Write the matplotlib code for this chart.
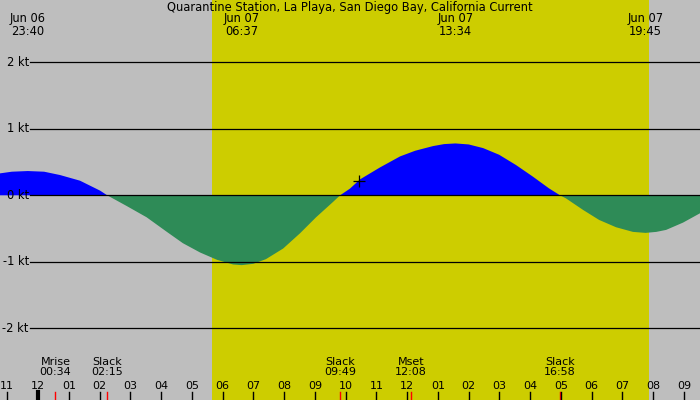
import numpy as np
import matplotlib.pyplot as plt

# hours from midnight Jun 07 and current speed (kt)
hours = [-1.235, -0.85, -0.333, 0.2, 0.715, 1.365, 2.02, 2.25, 2.88, 3.53, 4.19,
         4.71, 5.27, 5.82, 6.34, 6.62, 7.0, 7.41, 7.97, 8.52, 9.04, 9.59, 9.82,
         10.14, 10.47, 11.12, 11.77, 12.26, 12.84, 13.2, 13.57, 14.0, 14.47,
         14.99, 15.54, 16.09, 16.61, 16.97, 17.16, 17.72, 18.24, 18.79, 19.34,
         19.75, 20.1, 20.42, 20.97, 21.52]
speed = [0.33, 0.355, 0.365, 0.355, 0.305, 0.22, 0.07, 0.0, -0.16, -0.33, -0.55,
         -0.72, -0.86, -0.97, -1.04, -1.05, -1.03, -0.96, -0.80, -0.57, -0.33,
         -0.10, 0.0, 0.10, 0.24, 0.42, 0.585, 0.67, 0.74, 0.77, 0.78, 0.765,
         0.71, 0.61, 0.455, 0.28, 0.105, 0.0, -0.045, -0.22, -0.37, -0.48,
         -0.55, -0.565, -0.55, -0.52, -0.41, -0.27]

sunrise, sunset = 5.66, 19.86
kt_levels = [2, 1, 0, -1, -2]

# max/min current labels along the top
peak_hours = [-0.333, 6.617, 13.567, 19.75]
peak_labels = ["Jun 06\n23:40", "Jun 07\n06:37", "Jun 07\n13:34", "Jun 07\n19:45"]

# events along the bottom
event_hours = [0.567, 2.25, 9.817, 12.133, 16.967]
event_labels = ["Mrise\n00:34", "Slack\n02:15", "Slack\n09:49", "Mset\n12:08", "Slack\n16:58"]

hour_ticks = list(range(-1, 22))
hour_labels = ["11", "12", "01", "02", "03", "04", "05", "06", "07", "08", "09", "10",
               "11", "12", "01", "02", "03", "04", "05", "06", "07", "08", "09"]

now_hour, now_speed = 10.42, 0.22

gray = "#bebebe"
yellow = "#cdcd00"
fs = 8.3
fs_small = 8

fig = plt.figure(figsize=(7, 4), dpi=100, facecolor=gray)
ax = fig.add_axes([0, 0, 1, 1])
ax.set_facecolor(gray)
ax.set_xlim(-1.235, 21.52)
ax.set_ylim(-3.078, 2.937)
ax.axis("off")

ax.axvspan(sunrise, sunset, color=yellow, lw=0, zorder=0)

h = np.array(hours)
s = np.array(speed)
ax.fill_between(h, 0, s, where=s >= 0, interpolate=True, color="#0000ff", lw=0, zorder=1)
ax.fill_between(h, 0, s, where=s <= 0, interpolate=True, color="#2e8b57", lw=0, zorder=1)

for lv in kt_levels:
    ax.axhline(lv, xmin=30 / 700, xmax=1, color="black", lw=0.9, zorder=2)
    ax.text(-0.3, lv, f"{lv} kt", ha="right", va="center", fontsize=fs, zorder=3)

ax.plot([now_hour], [now_speed], marker="+", color="black", ms=8, mew=0.9, zorder=3)

ax.text(0.5, 1 - 8 / 400, "Quarantine Station, La Playa, San Diego Bay, California Current",
        transform=ax.transAxes, ha="center", va="center", fontsize=fs)

tr = ax.get_xaxis_transform()
for ph, pl in zip(peak_hours, peak_labels):
    ax.text(ph, 1 - 25 / 400, pl, transform=tr, ha="center", va="center",
            fontsize=fs, linespacing=0.95)

for eh, el in zip(event_hours, event_labels):
    ax.text(eh, 1 - 367 / 400, el, transform=tr, ha="center", va="center",
            fontsize=fs_small, linespacing=0.9)
    ax.plot([eh, eh], [0, 8 / 400], transform=tr, color="red", lw=1, zorder=3,
            clip_on=False)

for hh, hl in zip(hour_ticks, hour_labels):
    ax.text(hh, 1 - 386 / 400, hl, transform=tr, ha="center", va="center",
            fontsize=fs_small)
    ax.plot([hh, hh], [0, 8 / 400], transform=tr, color="black",
            lw=3 if hh == 0 else 1, zorder=3, clip_on=False)

fig.savefig("out.png", dpi=100, facecolor=gray)
